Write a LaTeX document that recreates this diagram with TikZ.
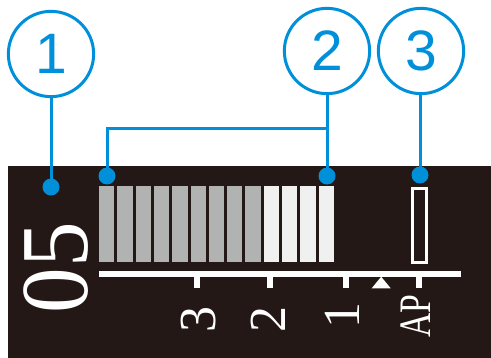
\documentclass[tikz,border=0pt]{standalone}
\usepackage{fontspec}
\setmainfont{Liberation Serif}
\newfontfamily\numfont{Liberation Sans}
\definecolor{cblue}{HTML}{0090DA}
\definecolor{panel}{HTML}{231815}
\definecolor{bargray}{HTML}{B1B3B3}
\definecolor{barlight}{HTML}{F0F0F0}
\begin{document}
\begin{tikzpicture}[x=1pt,y=-1pt,
  callout/.style={circle, draw=cblue, line width=3pt, minimum size=85.3pt, inner sep=0pt,
    font=\numfont\fontsize{57}{57}\selectfont, text=cblue},
  lead/.style={draw=cblue, line width=3pt},
  dotmark/.style={circle, fill=cblue, minimum size=17pt, inner sep=0pt},
  scalelbl/.style={rotate=90, anchor=base, text=white, inner sep=0pt,
    font=\fontsize{52}{52}\selectfont}]
\useasboundingbox (0,0) rectangle (491,358);
% panel
\fill[panel] (8,166) rectangle (491,358);
% bars
\foreach \i in {0,...,8} \fill[bargray] ({99+18.3*\i},186) rectangle ++(15.3,76);
\foreach \i in {9,...,12} \fill[barlight] ({99+18.3*\i},186) rectangle ++(15.3,76);
% AP frame
\draw[white, line width=3.3pt] (412.3,188.3) rectangle (426.7,262.3);
% scale
\fill[white] (99,270.7) rectangle (461,276.7);
\foreach \x in {196.7,269.5,345.7,419} \fill[white] ({\x-3},276) rectangle ({\x+3},288);
\fill[white] (371.7,288.3) -- (390.7,288.3) -- (381.2,276.7) -- cycle;
% labels
\node[scalelbl] (l3) at (215.7,319.5) {3};
\node[scalelbl] (l2) at (285,319.5) {2};
\node[scalelbl] (l1) at (359,316) {1};
\node[scalelbl, font=\fontsize{45}{45}\selectfont] (lap) at (430,316) {\scalebox{0.75}[1]{AP}};
\node[rotate=90, anchor=base, text=white, inner sep=0pt, font=\fontsize{96}{96}\selectfont] (val) at (88,267.5) {\scalebox{0.95}[1]{05}};
% callouts
\node[callout] (c1) at (51,54) {\raisebox{-1.5pt}{1}};
\node[callout] (c2) at (327,51) {\raisebox{-2pt}{2}};
\node[callout] (c3) at (421,51) {\raisebox{-2pt}{3}};
\node[dotmark] (d1) at (51,187) {};
\node[dotmark] (d2a) at (107,176) {};
\node[dotmark] (d2b) at (327,176) {};
\node[dotmark] (d3) at (420,175) {};
\coordinate (j2) at (327,129);
\draw[lead] (c1.south) -- (d1.center);
\draw[lead] (c2.south) -- (d2b.center);
\draw[lead] (j2) -| (d2a.center);
\draw[lead] (c3.south -| d3) -- (d3.center);
\end{tikzpicture}
\end{document}
